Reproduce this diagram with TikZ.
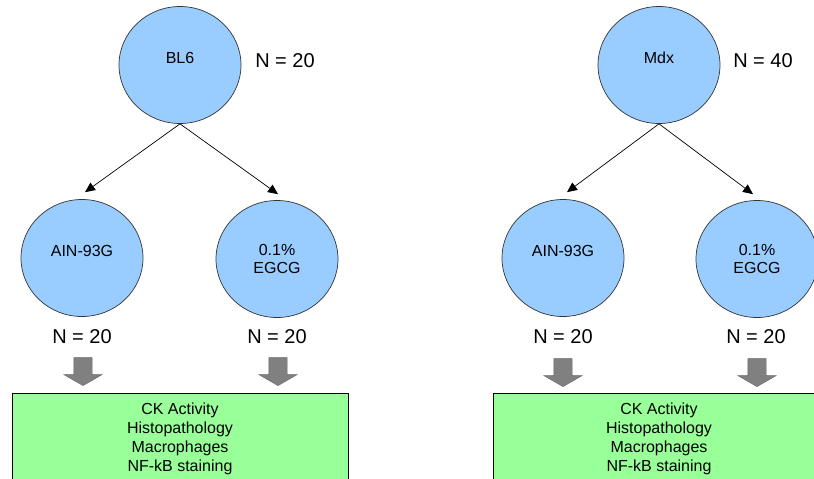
\documentclass[tikz,border=0pt]{standalone}
\usepackage{fontspec}
\setmainfont{Liberation Sans}
\usepackage{xcolor}
\usetikzlibrary{arrows.meta,shapes.geometric,shapes.arrows}

\definecolor{bubblefill}{HTML}{99CCFF}
\definecolor{boxfill}{HTML}{99FF99}
\definecolor{downfill}{HTML}{808080}

\tikzset{
  bubble/.style={ellipse,draw=black!80,fill=bubblefill,line width=0.7pt,
    minimum width=122pt,minimum height=117pt,inner sep=0pt,
    font=\fontsize{16}{18}\selectfont,align=center},
  oneline/.style={text height=12pt,text depth=16pt},
  count/.style={font=\fontsize{20}{22}\selectfont},
  down/.style={single arrow,draw=black!60,fill=downfill,shape border rotate=270,
    minimum height=28pt,single arrow head extend=10pt,
    single arrow tip angle=120,inner sep=9pt},
  results/.style={draw=black,fill=boxfill,line width=0.7pt,minimum height=92pt,
    inner sep=0pt,align=center,font=\fontsize{16}{19}\selectfont},
  link/.style={-{Triangle[length=10pt,width=9pt]},line width=0.7pt}
}

\begin{document}
\begin{tikzpicture}[x=1pt,y=-1pt]
    \useasboundingbox (0,0) rectangle (814,479);
    \clip (0,0) rectangle (814,479);

    % left group
    \node[bubble,oneline] (bl6) at (180,65) {BL6};
    \node[count] (n_bl6) at (285,61) {N = 20};
    \node[bubble,oneline] (ain_bl6) at (82,258) {AIN-93G};
    \node[bubble] (egcg_bl6) at (277,259) {0.1\%\\EGCG};
    \node[count] (n_ain_bl6) at (82,337) {N = 20};
    \node[count] (n_egcg_bl6) at (277,337) {N = 20};
    \node[down] (down_ain_bl6) at (83,369) {};
    \node[down] (down_egcg_bl6) at (278,369) {};
    \node[results,minimum width=336pt] (res_bl6) at (180,439)
      {CK Activity\\Histopathology\\Macrophages\\NF-kB staining};

    \draw[link] (bl6.south) -- ([xshift=3pt,yshift=7pt]ain_bl6.north);
    \draw[link] (bl6.south) -- ([xshift=1pt,yshift=6pt]egcg_bl6.north);

    % right group
    \node[bubble,oneline] (mdx) at (659,65) {Mdx};
    \node[count] (n_mdx) at (763,61) {N = 40};
    \node[bubble,oneline] (ain_mdx) at (563,258) {AIN-93G};
    \node[bubble] (egcg_mdx) at (757,259) {0.1\%\\EGCG};
    \node[count] (n_ain_mdx) at (563,337) {N = 20};
    \node[count] (n_egcg_mdx) at (756,337) {N = 20};
    \node[down] (down_ain_mdx) at (563,370) {};
    \node[down] (down_egcg_mdx) at (757,370) {};
    \node[results,minimum width=332pt] (res_mdx) at (659,439)
      {CK Activity\\Histopathology\\Macrophages\\NF-kB staining};

    \draw[link] (mdx.south) -- ([xshift=4pt,yshift=7pt]ain_mdx.north);
    \draw[link] (mdx.south) -- ([xshift=-4pt,yshift=6pt]egcg_mdx.north);

  \end{tikzpicture}
\end{document}
